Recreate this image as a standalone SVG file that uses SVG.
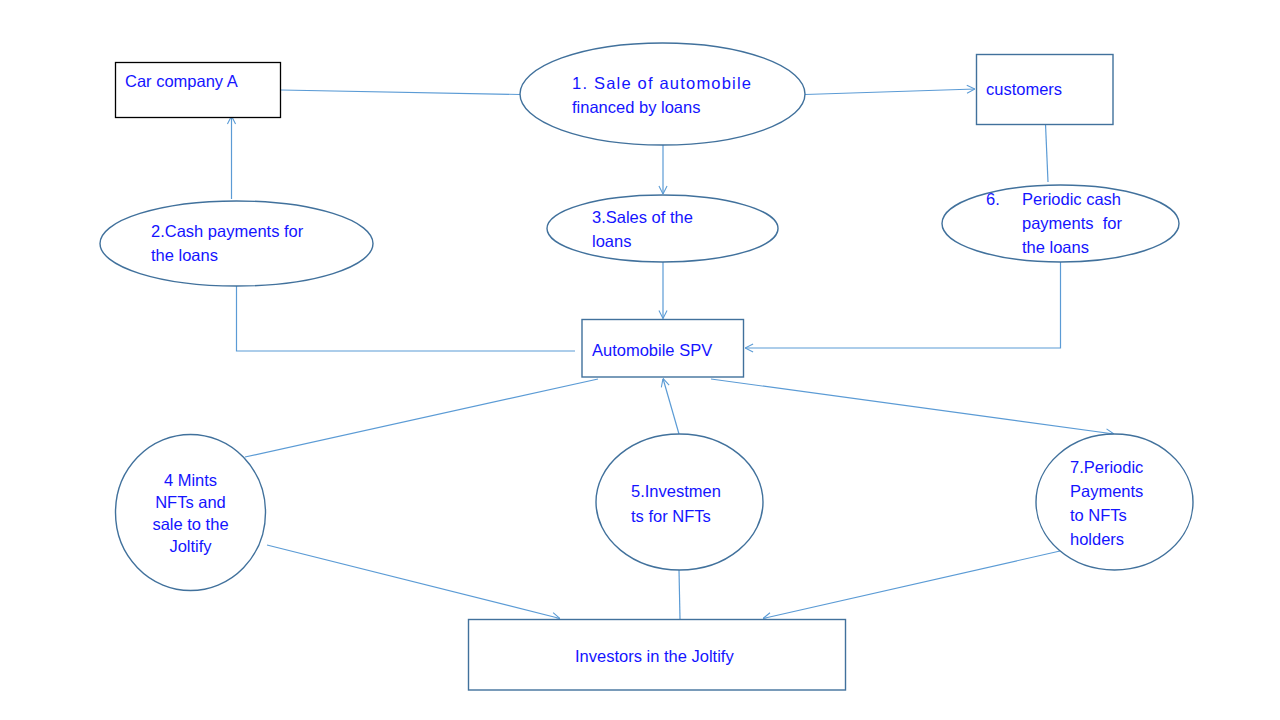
<svg xmlns="http://www.w3.org/2000/svg" width="1280" height="720" viewBox="0 0 1280 720">
<defs>
<marker id="arr" viewBox="0 0 10 10" refX="10" refY="5" markerWidth="9" markerHeight="11" markerUnits="userSpaceOnUse" orient="auto">
<path d="M1,0.5 L10,5 L1,9.5" fill="none" stroke="#5b9bd5" stroke-width="1.2"/>
</marker>
</defs>
<style>
text{font-family:"Liberation Sans",Arial,sans-serif;font-size:16.5px;fill:#1414ff}
.sh{fill:#fff;stroke:#41719c;stroke-width:1.4}
.blk{fill:#fff;stroke:#000;stroke-width:1.3}
.c{fill:none;stroke:#5b9bd5;stroke-width:1.2}
.a{marker-end:url(#arr)}
</style>
<rect width="1280" height="720" fill="#fff"/>
<g id="connectors">
<line class="c" x1="281" y1="90" x2="520" y2="94.5"/>
<line class="c a" x1="805" y1="94.5" x2="975" y2="89"/>
<line class="c" x1="1045.5" y1="124" x2="1048" y2="182"/>
<polyline class="c a" points="1060.5,262 1060.5,348 745,348"/>
<line class="c a" x1="663" y1="145" x2="663" y2="194"/>
<line class="c a" x1="663" y1="262" x2="663" y2="318.5"/>
<line class="c a" x1="231.5" y1="199" x2="231.5" y2="116"/>
<polyline class="c" points="236.5,286 236.5,351 575,351"/>
<line class="c" x1="245" y1="457" x2="598" y2="379"/>
<line class="c a" x1="267" y1="545" x2="560" y2="618.5"/>
<line class="c a" x1="679" y1="434" x2="663" y2="378.5"/>
<line class="c" x1="679" y1="570" x2="680" y2="619"/>
<line class="c a" x1="711" y1="379" x2="1114" y2="434"/>
<line class="c a" x1="1060" y1="551" x2="763" y2="618.5"/>
</g>
<g id="car-company">
<rect class="blk" x="115.5" y="62.5" width="165" height="55"/>
<text x="125" y="87">Car company A</text>
</g>
<g id="sale">
<ellipse class="sh" cx="662.5" cy="94" rx="142.5" ry="51"/>
<text x="572" y="89" letter-spacing="1.2">1. Sale of automobile</text>
<text x="572" y="113">financed by loans</text>
</g>
<g id="customers">
<rect class="sh" x="976.5" y="54.5" width="136.5" height="70"/>
<text x="986" y="95">customers</text>
</g>
<g id="cash-payments">
<ellipse class="sh" cx="236.5" cy="243.5" rx="136.5" ry="42.5"/>
<text x="151" y="237">2.Cash payments for</text>
<text x="151" y="261">the loans</text>
</g>
<g id="sales-loans">
<ellipse class="sh" cx="662.5" cy="228.5" rx="115.5" ry="33.5"/>
<text x="592" y="223">3.Sales of the</text>
<text x="592" y="247">loans</text>
</g>
<g id="periodic-cash">
<ellipse class="sh" cx="1060.5" cy="223.5" rx="118.5" ry="38.5"/>
<text x="986" y="205">6.</text>
<text x="1022" y="205">Periodic cash</text>
<text x="1022" y="229" xml:space="preserve">payments  for</text>
<text x="1022" y="253">the loans</text>
</g>
<g id="spv">
<rect class="sh" x="582" y="319.5" width="161.5" height="57.5"/>
<text x="592" y="356">Automobile SPV</text>
</g>
<g id="mints">
<ellipse class="sh" cx="190.5" cy="512.5" rx="75" ry="78"/>
<text x="190.5" y="486" text-anchor="middle">4 Mints</text>
<text x="190.5" y="508" text-anchor="middle">NFTs and</text>
<text x="190.5" y="530" text-anchor="middle">sale to the</text>
<text x="190.5" y="552" text-anchor="middle">Joltify</text>
</g>
<g id="investments">
<ellipse class="sh" cx="679.5" cy="502" rx="83.5" ry="68"/>
<text x="631" y="497">5.Investmen</text>
<text x="631" y="522">ts for NFTs</text>
</g>
<g id="periodic-payments">
<ellipse class="sh" cx="1114.5" cy="502" rx="78.5" ry="68"/>
<text x="1070" y="473">7.Periodic</text>
<text x="1070" y="497">Payments</text>
<text x="1070" y="521">to NFTs</text>
<text x="1070" y="545">holders</text>
</g>
<g id="investors">
<rect class="sh" x="468.5" y="619.5" width="377" height="70.5"/>
<text x="575" y="662">Investors in the Joltify</text>
</g>
</svg>
